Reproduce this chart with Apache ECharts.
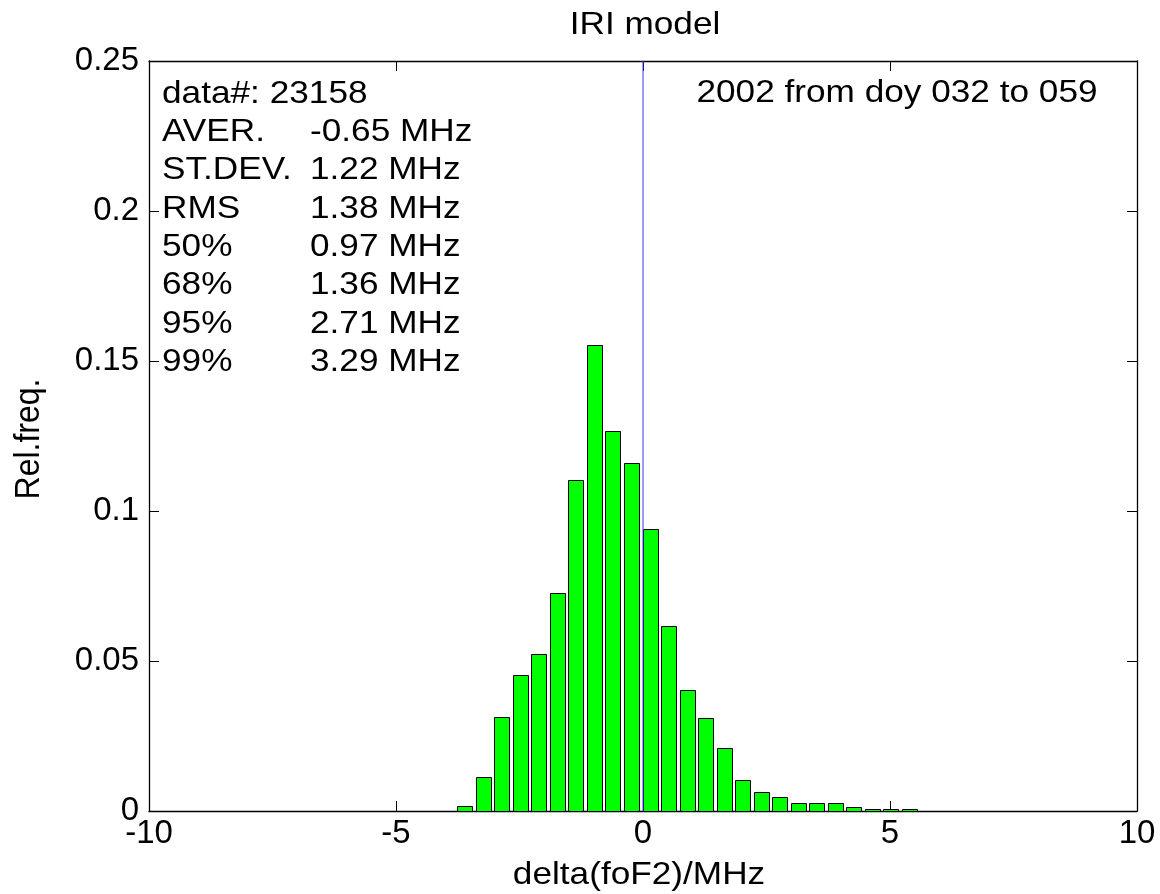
<!DOCTYPE html>
<html>
<head>
<meta charset="utf-8">
<script src="https://cdn.jsdelivr.net/npm/echarts@6/dist/echarts.min.js"></script>
<style>html,body{margin:0;padding:0;background:#fff}#c{width:1160px;height:894px}</style>
</head>
<body>
<div id="c"></div>
<script>
// ---- data ----
const binCenters = [-3.61, -3.23, -2.86, -2.48, -2.11, -1.73, -1.36, -0.98, -0.61, -0.23, 0.14, 0.52, 0.89, 1.27, 1.64, 2.02, 2.39, 2.77, 3.14, 3.52, 3.89, 4.26, 4.64, 5.01, 5.39];
const relFreq = [0.0018, 0.0114, 0.0315, 0.0455, 0.0524, 0.0726, 0.1104, 0.1554, 0.1268, 0.1161, 0.0941, 0.0618, 0.0405, 0.0310, 0.0209, 0.0102, 0.0063, 0.0046, 0.0026, 0.0026, 0.0026, 0.0012, 0.0007, 0.0007, 0.0007];
const xTicks = [-10, -5, 0, 5, 10];
const yTicks = [0, 0.05, 0.1, 0.15, 0.2, 0.25];
const statLabels = ['data#: 23158', 'AVER.', 'ST.DEV.', 'RMS', '50%', '68%', '95%', '99%'];
const statValues = ['', '-0.65 MHz', '1.22 MHz', '1.38 MHz', '0.97 MHz', '1.36 MHz', '2.71 MHz', '3.29 MHz'];
const titleText = 'IRI model';
const periodText = '2002 from doy 032 to 059';
const xName = 'delta(foF2)/MHz';
const yName = 'Rel.freq.';
const refLineX = 0;

// ---- styling ----
const FONT = '"Liberation Sans", Arial, Helvetica, sans-serif';
const FS = 33;       // tick labels
const TFS = 32;      // free text
const SX = 1.1;      // horizontal stretch of free text (reference glyphs are wide)
const BAR_W = 0.3;   // bar width in x units
const G = {left: 149, right: 23, top: 61, bottom: 83};

const chart = echarts.init(document.getElementById('c'), null, {renderer: 'canvas'});

const xMin = xTicks[0], xMax = xTicks[xTicks.length - 1];
const yMin = yTicks[0], yMax = yTicks[yTicks.length - 1];
const xInt = xTicks[1] - xTicks[0];
const yInt = +(yTicks[1] - yTicks[0]).toFixed(4);

function fmtY(v) { return String(parseFloat(v.toFixed(3))); }

function mkAxis(kind, pos, showLabel) {
  const isX = kind === 'x';
  return {
    type: 'value',
    position: pos,
    min: isX ? xMin : yMin,
    max: isX ? xMax : yMax,
    interval: isX ? xInt : yInt,
    axisLine: {show: true, onZero: false, lineStyle: {color: '#000', width: 1.3}},
    axisTick: {show: true, inside: true, length: 10, lineStyle: {color: '#000', width: 1}},
    splitLine: {show: false},
    axisLabel: {
      show: showLabel,
      fontSize: FS,
      fontFamily: FONT,
      color: '#000',
      margin: isX ? 6 : 10,
      formatter: isX ? (v => String(v)) : fmtY
    }
  };
}

function txt(s, x, y, align, extra) {
  return Object.assign({
    type: 'text', x: x, y: y, scaleX: SX,
    style: {text: s, font: TFS + 'px ' + FONT, fill: '#000', textAlign: align, textVerticalAlign: 'middle'}
  }, extra || {});
}

const textLines = [];
const lineY0 = 94, lineDy = 38.3;
statLabels.forEach((s, i) => {
  textLines.push(txt(s, 162, lineY0 + i * lineDy, 'left'));
  if (statValues[i]) textLines.push(txt(statValues[i], 310, lineY0 + i * lineDy, 'left'));
});

const option = {
  backgroundColor: '#fff',
  animation: false,
  grid: {left: G.left, right: G.right, top: G.top, bottom: G.bottom, containLabel: false},
  xAxis: [mkAxis('x', 'bottom', true), mkAxis('x', 'top', false)],
  yAxis: [mkAxis('y', 'left', true), mkAxis('y', 'right', false)],
  series: [
    {
      type: 'custom',
      xAxisIndex: 0, yAxisIndex: 0,
      data: binCenters.map((c, i) => [c, relFreq[i]]),
      renderItem: function (params, api) {
        const x = api.value(0), y = api.value(1);
        const p0 = api.coord([x - BAR_W / 2, y]);
        const p1 = api.coord([x + BAR_W / 2, 0]);
        return {
          type: 'rect',
          shape: {x: Math.round(p0[0]) + 0.5, y: Math.round(p0[1]) + 0.5,
                  width: Math.round(p1[0] - p0[0]), height: Math.round(p1[1]) - Math.round(p0[1])},
          style: {fill: '#00ff00', stroke: '#000', lineWidth: 1}
        };
      },
      z: 2
    },
    {
      type: 'line',
      xAxisIndex: 0, yAxisIndex: 0,
      data: [[refLineX, yMin], [refLineX, yMax]],
      symbol: 'none',
      lineStyle: {color: '#3a3aff', width: 1},
      z: 5
    }
  ],
  graphic: [
    txt(titleText, 645, 25, 'center'),
    txt(periodText, 897, 93, 'center'),
    txt(xName, 639, 875, 'center'),
    txt(yName, 29, 439, 'center', {rotation: Math.PI / 2, scaleX: 1, scaleY: SX})
  ].concat(textLines)
};
chart.setOption(option);
</script>
</body>
</html>
